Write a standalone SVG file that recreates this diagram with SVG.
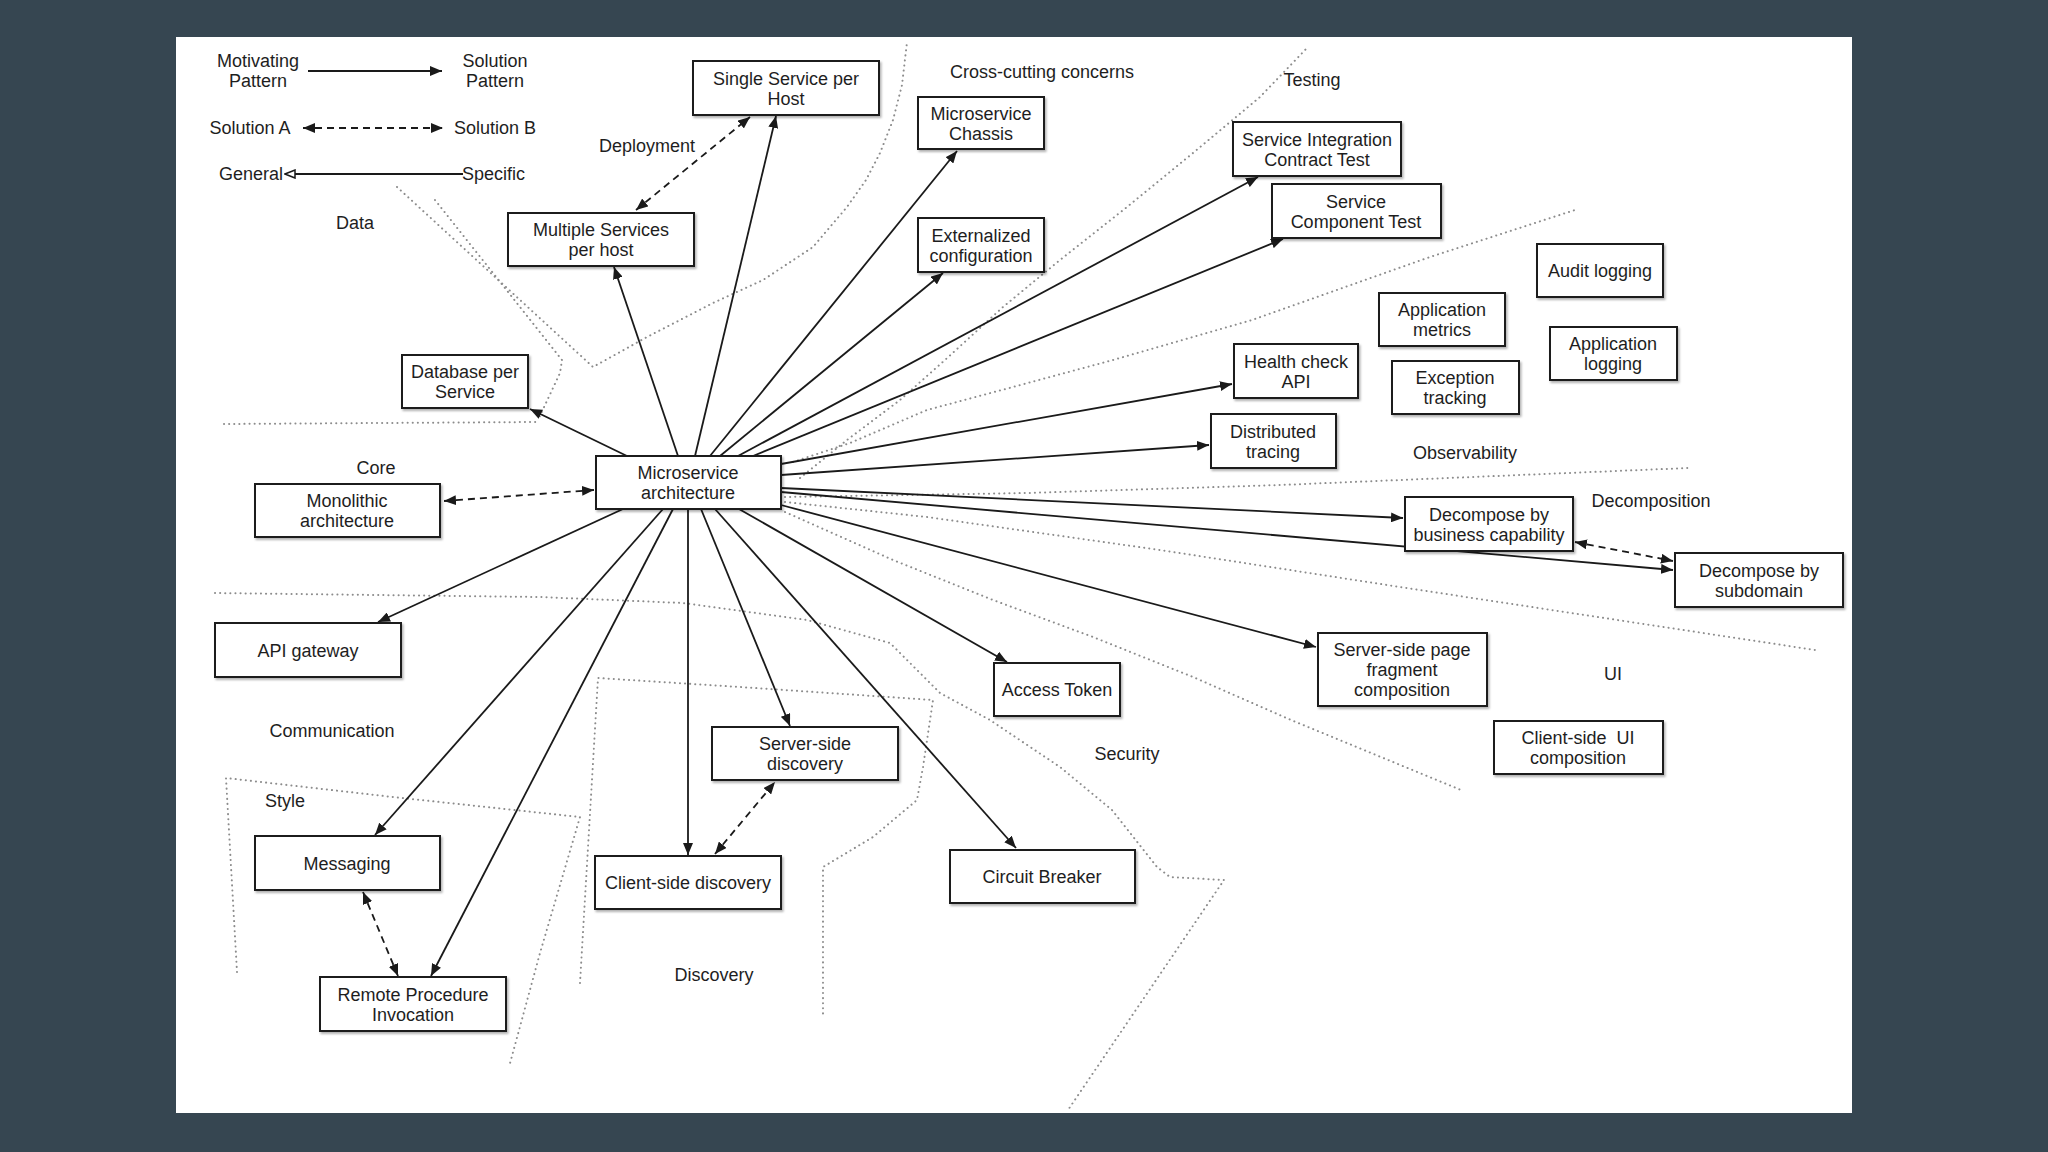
<svg xmlns="http://www.w3.org/2000/svg" width="2048" height="1152" viewBox="0 0 2048 1152">
<defs>
<style>
.box{fill:#fff;stroke:#1a1a1a;stroke-width:2;filter:url(#sh)}
.t{font-family:"Liberation Sans",Arial,sans-serif;font-size:18px;fill:#1e1e1e;text-anchor:middle}
.c{stroke:#1a1a1a;stroke-width:1.8;fill:none;marker-end:url(#ah)}
.d{stroke:#1a1a1a;stroke-width:1.8;fill:none;stroke-dasharray:7 5;marker-start:url(#ah);marker-end:url(#ah)}
.dot{stroke:#8c8c8c;stroke-width:2;stroke-dasharray:0.1 5;stroke-linecap:round;fill:none}
</style>
<marker id="ah" viewBox="0 0 12 10" refX="12" refY="5" markerWidth="12" markerHeight="10" markerUnits="userSpaceOnUse" orient="auto-start-reverse"><path d="M0,0 L12,5 L0,10 z" fill="#1a1a1a"/></marker>
<marker id="oh" viewBox="0 0 12 10" refX="11" refY="5" markerWidth="12" markerHeight="10" markerUnits="userSpaceOnUse" orient="auto"><path d="M1,1 L11,5 L1,9 z" fill="#fff" stroke="#1a1a1a" stroke-width="1.5"/></marker>
<filter id="sh" x="-10%" y="-10%" width="130%" height="140%"><feDropShadow dx="1.5" dy="2" stdDeviation="1.2" flood-color="#000" flood-opacity="0.3"/></filter>
</defs>
<rect x="0" y="0" width="2048" height="1152" fill="#364651"/>
<rect x="176" y="37" width="1676" height="1076" fill="#fff"/>

<g id="boundaries">
<polyline class="dot" points="224,424 537,422"/>
<polyline class="dot" points="435,200 562,360 560,373 538,420"/>
<polyline class="dot" points="397,187 593,367 647,337 713,303 763,280 813,247 847,207 866,180 880,153 893,120 902,85 907,42"/>
<polyline class="dot" points="800,478 847,440 900,400 945,360 1003,307 1060,260 1127,207 1193,153 1260,97 1307,48"/>
<polyline class="dot" points="793,462 850,443 927,410 1013,387 1113,360 1252,320 1430,257 1575,210"/>
<polyline class="dot" points="785,497 1027,493 1280,485 1400,480 1688,468"/>
<polyline class="dot" points="785,502 927,517 1160,550 1400,587 1815,650"/>
<polyline class="dot" points="785,512 893,560 993,600 1093,637 1193,677 1291,720 1461,790"/>
<polyline class="dot" points="215,593 540,597 683,603 807,620 890,643 907,660 940,693 990,720 1060,767 1112,810 1157,867 1170,877 1224,880 1068,1110"/>
<polyline class="dot" points="580,983 598,678 740,687 933,700 923,767 917,800 873,837 823,867 823,1018"/>
<polyline class="dot" points="237,972 226,778 393,797 580,817 540,953 509,1067"/>
</g>

<g id="legend">
<text class="t" x="258" y="67">Motivating</text>
<text class="t" x="258" y="87">Pattern</text>
<line class="c" x1="308" y1="71" x2="442" y2="71"/>
<text class="t" x="495" y="67">Solution</text>
<text class="t" x="495" y="87">Pattern</text>
<text class="t" x="250" y="134">Solution A</text>
<line class="d" x1="303" y1="128" x2="443" y2="128"/>
<text class="t" x="495" y="134">Solution B</text>
<text class="t" x="283" y="180" style="text-anchor:end">General</text>
<line x1="463" y1="174" x2="285" y2="174" stroke="#1a1a1a" stroke-width="1.8" marker-end="url(#oh)"/>
<text class="t" x="462" y="180" style="text-anchor:start">Specific</text>
</g>

<g id="section-labels">
<text class="t" x="355" y="229">Data</text>
<text class="t" x="647" y="152">Deployment</text>
<text class="t" x="1042" y="78">Cross-cutting concerns</text>
<text class="t" x="1312" y="86">Testing</text>
<text class="t" x="1465" y="459">Observability</text>
<text class="t" x="1651" y="507">Decomposition</text>
<text class="t" x="1613" y="680">UI</text>
<text class="t" x="1127" y="760">Security</text>
<text class="t" x="714" y="981">Discovery</text>
<text class="t" x="285" y="807">Style</text>
<text class="t" x="332" y="737">Communication</text>
<text class="t" x="376" y="474">Core</text>
</g>

<g id="connectors">
<line class="c" x1="627" y1="456" x2="530" y2="409"/>
<line class="c" x1="678" y1="456" x2="614" y2="267"/>
<line class="c" x1="695" y1="456" x2="776" y2="116"/>
<line class="c" x1="710" y1="456" x2="957" y2="151"/>
<line class="c" x1="720" y1="456" x2="943" y2="273"/>
<line class="c" x1="738" y1="456" x2="1258" y2="177"/>
<line class="c" x1="753" y1="456" x2="1283" y2="239"/>
<line class="c" x1="781" y1="464" x2="1232" y2="384"/>
<line class="c" x1="781" y1="475" x2="1209" y2="445"/>
<line class="c" x1="781" y1="488" x2="1403" y2="518"/>
<line class="c" x1="781" y1="492" x2="1673" y2="570"/>
<line class="c" x1="781" y1="505" x2="1316" y2="647"/>
<line class="c" x1="739" y1="509" x2="1007" y2="662"/>
<line class="c" x1="715" y1="509" x2="1016" y2="848"/>
<line class="c" x1="701" y1="509" x2="790" y2="726"/>
<line class="c" x1="688" y1="509" x2="688" y2="855"/>
<line class="c" x1="673" y1="509" x2="431" y2="976"/>
<line class="c" x1="663" y1="509" x2="375" y2="835"/>
<line class="c" x1="623" y1="509" x2="378" y2="622"/>
<line class="d" x1="636" y1="210" x2="750" y2="117"/>
<line class="d" x1="444" y1="501" x2="594" y2="490"/>
<line class="d" x1="715" y1="854" x2="775" y2="782"/>
<line class="d" x1="363" y1="892" x2="398" y2="976"/>
<line class="d" x1="1575" y1="542" x2="1673" y2="561"/>
</g>

<g id="n-single"><rect class="box" x="693" y="61" width="186" height="54"/><text class="t" x="786" y="84.5">Single Service per</text><text class="t" x="786" y="104.5">Host</text></g>
<g id="n-multi"><rect class="box" x="508" y="213" width="186" height="53"/><text class="t" x="601" y="236">Multiple Services</text><text class="t" x="601" y="256">per host</text></g>
<g id="n-db"><rect class="box" x="402" y="355" width="126" height="53"/><text class="t" x="465" y="378">Database per</text><text class="t" x="465" y="398">Service</text></g>
<g id="n-chassis"><rect class="box" x="918" y="97" width="126" height="52"/><text class="t" x="981" y="119.5">Microservice</text><text class="t" x="981" y="139.5">Chassis</text></g>
<g id="n-ext"><rect class="box" x="918" y="218" width="126" height="54"/><text class="t" x="981" y="241.5">Externalized</text><text class="t" x="981" y="261.5">configuration</text></g>
<g id="n-sict"><rect class="box" x="1233" y="122" width="168" height="54"/><text class="t" x="1317" y="145.5">Service Integration</text><text class="t" x="1317" y="165.5">Contract Test</text></g>
<g id="n-sct"><rect class="box" x="1272" y="184" width="169" height="54"/><text class="t" x="1356" y="207.5">Service</text><text class="t" x="1356" y="227.5">Component Test</text></g>
<g id="n-appmetrics"><rect class="box" x="1379" y="293" width="126" height="53"/><text class="t" x="1442" y="316">Application</text><text class="t" x="1442" y="336">metrics</text></g>
<g id="n-audit"><rect class="box" x="1537" y="244" width="126" height="53"/><text class="t" x="1600" y="277">Audit logging</text></g>
<g id="n-applog"><rect class="box" x="1550" y="327" width="127" height="53"/><text class="t" x="1613" y="350">Application</text><text class="t" x="1613" y="370">logging</text></g>
<g id="n-health"><rect class="box" x="1234" y="344" width="124" height="54"/><text class="t" x="1296" y="367.5">Health check</text><text class="t" x="1296" y="387.5">API</text></g>
<g id="n-exception"><rect class="box" x="1392" y="361" width="127" height="53"/><text class="t" x="1455" y="384">Exception</text><text class="t" x="1455" y="404">tracking</text></g>
<g id="n-distributed"><rect class="box" x="1211" y="414" width="125" height="54"/><text class="t" x="1273" y="437.5">Distributed</text><text class="t" x="1273" y="457.5">tracing</text></g>
<g id="n-ma"><rect class="box" x="596" y="456" width="185" height="53"/><text class="t" x="688" y="479">Microservice</text><text class="t" x="688" y="499">architecture</text></g>
<g id="n-mono"><rect class="box" x="255" y="484" width="185" height="53"/><text class="t" x="347" y="507">Monolithic</text><text class="t" x="347" y="527">architecture</text></g>
<g id="n-dbc"><rect class="box" x="1405" y="497" width="168" height="54"/><text class="t" x="1489" y="520.5">Decompose by</text><text class="t" x="1489" y="540.5">business capability</text></g>
<g id="n-dbs"><rect class="box" x="1675" y="553" width="168" height="54"/><text class="t" x="1759" y="576.5">Decompose by</text><text class="t" x="1759" y="596.5">subdomain</text></g>
<g id="n-apigw"><rect class="box" x="215" y="623" width="186" height="54"/><text class="t" x="308" y="656.5">API gateway</text></g>
<g id="n-sspfc"><rect class="box" x="1318" y="633" width="169" height="73"/><text class="t" x="1402" y="656">Server-side page</text><text class="t" x="1402" y="676">fragment</text><text class="t" x="1402" y="696">composition</text></g>
<g id="n-access"><rect class="box" x="994" y="663" width="126" height="53"/><text class="t" x="1057" y="696">Access Token</text></g>
<g id="n-csui"><rect class="box" x="1494" y="721" width="169" height="53"/><text class="t" x="1578" y="744" xml:space="preserve">Client-side  UI</text><text class="t" x="1578" y="764">composition</text></g>
<g id="n-ssd"><rect class="box" x="712" y="727" width="186" height="53"/><text class="t" x="805" y="750">Server-side</text><text class="t" x="805" y="770">discovery</text></g>
<g id="n-circuit"><rect class="box" x="950" y="850" width="185" height="53"/><text class="t" x="1042" y="883">Circuit Breaker</text></g>
<g id="n-csd"><rect class="box" x="595" y="856" width="186" height="53"/><text class="t" x="688" y="889">Client-side discovery</text></g>
<g id="n-messaging"><rect class="box" x="255" y="836" width="185" height="54"/><text class="t" x="347" y="869.5">Messaging</text></g>
<g id="n-rpi"><rect class="box" x="320" y="977" width="186" height="54"/><text class="t" x="413" y="1000.5">Remote Procedure</text><text class="t" x="413" y="1020.5">Invocation</text></g>
</svg>
